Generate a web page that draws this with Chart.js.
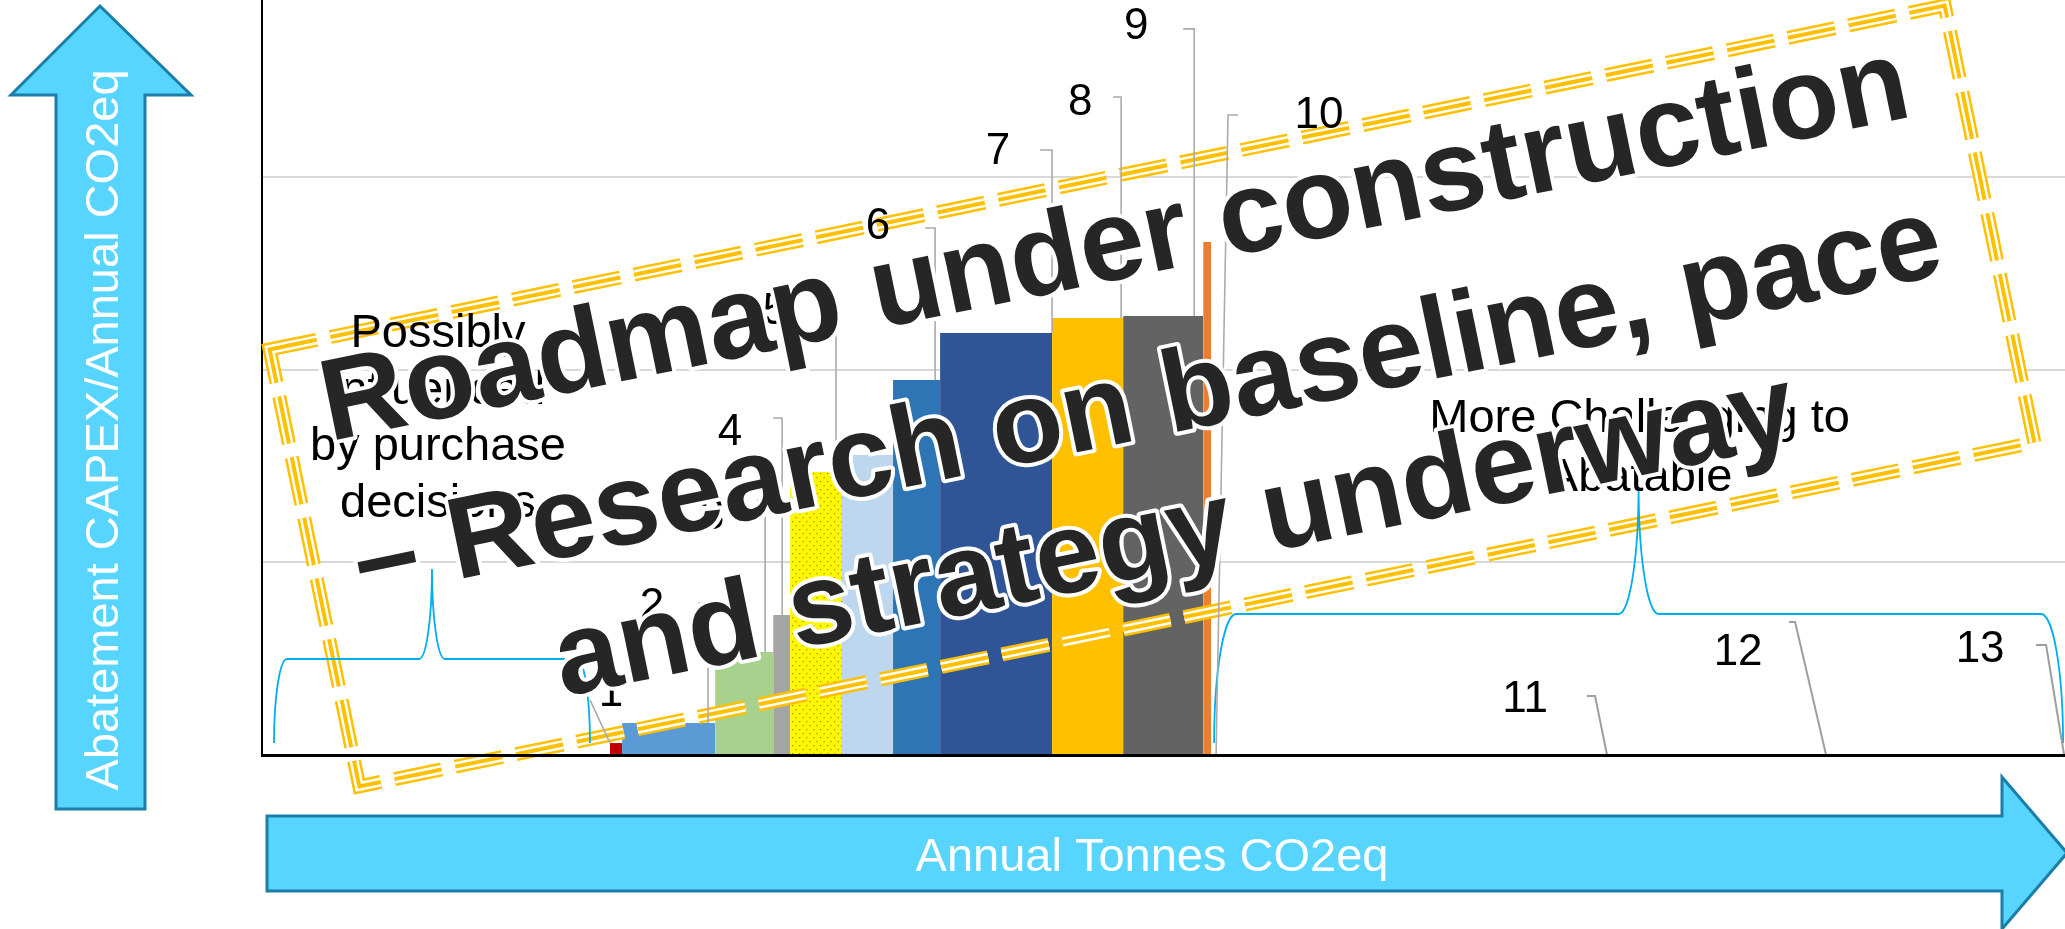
<!DOCTYPE html>
<html>
<head>
<meta charset="utf-8">
<script src="https://cdn.jsdelivr.net/npm/chart.js@4.4.1/dist/chart.umd.min.js"></script>
<style>
html,body{margin:0;padding:0;background:#fff;overflow:hidden;}
canvas{display:block;}
</style>
</head>
<body>
<canvas id="c" width="2065" height="929"></canvas>
<script>
// ---------------- DATA ----------------
// one entry per block of the abatement curve, left to right
const barLabels     = ['', '1', '2', '3', '4', '5', '', '6', '7', '8', '9', '', '10', '11', '12', '13'];
const annualTonnes  = [193.0, 6.7, 51.6, 32.2, 9.4, 28.8, 28.3, 26.1, 62.1, 39.4, 44.4, 4.4, 9.4, 210.2, 121.5, 132.0];
const capexPerTonne = [0, 62, 166, 535, 727, 1470, 1558, 1948, 2192, 2270, 2281, 2665, 0, 0, 0, 0];
const yTickValues   = [0, 1000, 2000, 3000];
const xAxisTitle    = 'Annual Tonnes CO2eq';
const yAxisTitle    = 'Abatement CAPEX/Annual CO2eq';
const leftGroupText  = ['Possibly', 'influenced', 'by purchase', 'decisions'];
const rightGroupText = ['More Challenging to', 'Abatable'];
const leftGroupBars  = [0, 0];
const rightGroupBars = [12, 15];
const watermarkLines = ['Roadmap under construction', '\u2013 Research on baseline, pace', 'and strategy underway'];

// ---------------- STYLE ----------------
const FONT = '"Liberation Sans", Arial, sans-serif';
function dottedYellow() {
  const c = document.createElement('canvas'); c.width = 7; c.height = 8;
  const g = c.getContext('2d');
  g.fillStyle = '#FFF700'; g.fillRect(0, 0, 7, 8);
  g.fillStyle = '#A89600';
  g.fillRect(1, 1, 1.3, 1.3); g.fillRect(4.5, 5, 1.3, 1.3);
  return g.createPattern(c, 'repeat');
}
const barColors = ['rgba(0,0,0,0)', '#C00000', '#5B9BD5', '#A9D18E', '#A5A5A5', dottedYellow(), '#BDD7EE',
  '#2E75B6', '#2F5597', '#FFC000', '#636363', '#ED7D31', 'rgba(0,0,0,0)', 'rgba(0,0,0,0)', 'rgba(0,0,0,0)', 'rgba(0,0,0,0)'];

// label placement, pixel offsets from the block's top-right corner
// top = leader top, foot = leader foot x offset, text = label centre, tick = horizontal tick length (neg = to the right)
const labelPlacement = {
  1:  {top: [-32, -43],  foot: -12, text: [-11, -49],  tick: 0},
  2:  {top: [-7, -120],  foot: -7,  text: [-63, -116], tick: 10},
  3:  {top: [-8, -152],  foot: -8,  text: [-61, -135], tick: 8},
  4:  {top: [-8, -197],  foot: -8,  text: [-60, -182], tick: 9},
  5:  {top: [-6, -174],  foot: -6,  text: [-67, -160], tick: 8},
  7:  {top: [-5, -152],  foot: -5,  text: [-62, -153], tick: 10},
  8:  {top: [0, -183],   foot: 0,   text: [-54, -181], tick: 12},
  9:  {top: [-2, -221],  foot: -2,  text: [-43, -215], tick: 8},
  10: {top: [-9, -287],  foot: -9,  text: [-67, -289], tick: 11},
  12: {top: [0, -640],   foot: -12, text: [91, -639],  tick: -10},
  13: {top: [-12, -59],  foot: 0,   text: [-82, -55],  tick: 8},
  14: {top: [-31, -133], foot: 0,   text: [-88, -102], tick: 6},
  15: {top: [-18, -110], foot: 0,   text: [-84, -105], tick: 10}
};

// ---------------- BUILD ----------------
let run = 0;
const starts = annualTonnes.map(w => { const s = run; run += w; return s; });
const datasets = annualTonnes.map((w, i) => ({
  label: barLabels[i],
  data: [{x: starts[i], y: capexPerTonne[i]}, {x: starts[i] + w, y: capexPerTonne[i]}],
  backgroundColor: barColors[i],
  borderColor: 'rgba(0,0,0,0)',
  borderWidth: 0,
  pointRadius: 0,
  fill: 'origin',
  tension: 0
}));

function brace(ctx, x0, x1, yb, yh, ypk, rc, rp) {
  const xm = (x0 + x1) / 2;
  ctx.beginPath();
  ctx.moveTo(x0, yb);
  ctx.ellipse(x0 + rc, yb, rc, yb - yh, 0, Math.PI, 1.5 * Math.PI, false);
  ctx.lineTo(xm - rp, yh);
  ctx.ellipse(xm - rp, ypk, rp, yh - ypk, 0, 0.5 * Math.PI, 0, true);
  ctx.ellipse(xm + rp, ypk, rp, yh - ypk, 0, Math.PI, 0.5 * Math.PI, true);
  ctx.lineTo(x1 - rc, yh);
  ctx.ellipse(x1 - rc, yb, rc, yb - yh, 0, 1.5 * Math.PI, 2 * Math.PI, false);
  ctx.stroke();
}

const WM = {cx: 1152, cy: 396, hw: 855, hh: 223, angle: -11.6};

const maccPlugin = {
  id: 'macc',
  afterDatasetsDraw(chart) {
    const ctx = chart.ctx, xs = chart.scales.x, ys = chart.scales.y;
    const X = v => xs.getPixelForValue(v), Y = v => ys.getPixelForValue(v);

    // dashed compound frame of the overlay
    ctx.save();
    ctx.translate(WM.cx, WM.cy);
    ctx.rotate(WM.angle * Math.PI / 180);
    ctx.setLineDash([48, 14]);
    ctx.lineJoin = 'miter';
    [['#FFC000', 14], ['#FFFFFF', 9], ['#FFC000', 4]].forEach(([c, w]) => {
      ctx.strokeStyle = c; ctx.lineWidth = w;
      ctx.strokeRect(-WM.hw, -WM.hh, WM.hw * 2, WM.hh * 2);
    });
    ctx.restore();

    // braces
    ctx.save();
    ctx.strokeStyle = '#00AEEF'; ctx.lineWidth = 1.8;
    const base = Y(0);
    const lx0 = X(starts[leftGroupBars[0]]) + 12, lx1 = X(starts[leftGroupBars[1]] + annualTonnes[leftGroupBars[1]]) - 20;
    brace(ctx, lx0, lx1, base - 12, base - 96, base - 186, 13, 13);
    const rx0 = X(starts[rightGroupBars[0]]) + 3, rx1 = X(starts[rightGroupBars[1]] + annualTonnes[rightGroupBars[1]]) - 1;
    brace(ctx, rx0, rx1, base - 12, base - 141, base - 268, 22, 20);
    ctx.restore();

    // group texts
    ctx.save();
    ctx.fillStyle = '#000';
    ctx.font = '47px ' + FONT;
    ctx.textAlign = 'center'; ctx.textBaseline = 'alphabetic';
    leftGroupText.forEach((t, i) => ctx.fillText(t, (lx0 + lx1) / 2 + 6, base - 408 + i * 56.7));
    rightGroupText.forEach((t, i) => ctx.fillText(t, (rx0 + rx1) / 2 + 1, base - 323 + i * 59));
    ctx.restore();

    // data labels with leader lines
    ctx.save();
    ctx.font = '44px ' + FONT;
    ctx.textAlign = 'center'; ctx.textBaseline = 'middle';
    barLabels.forEach((lab, i) => {
      const p = labelPlacement[i];
      if (!lab || !p) return;
      const ax = X(starts[i] + annualTonnes[i]), ay = Y(capexPerTonne[i]);
      const tx = ax + p.top[0], ty = ay + p.top[1];
      ctx.strokeStyle = i >= 13 ? '#9E9E9E' : '#ABABAB';
      ctx.lineWidth = i >= 13 ? 2 : 1.6;
      ctx.beginPath();
      if (p.tick) ctx.moveTo(tx - p.tick, ty); else ctx.moveTo(tx, ty);
      ctx.lineTo(tx, ty);
      ctx.lineTo(ax + p.foot, ay);
      ctx.stroke();
      ctx.fillStyle = '#000';
      ctx.fillText(lab, ax + p.text[0], ay + p.text[1]);
    });
    ctx.restore();
  },
  afterDraw(chart) {
    const ctx = chart.ctx;
    ctx.save();
    ctx.fillStyle = '#57D5FF'; ctx.strokeStyle = '#1B7EA8'; ctx.lineWidth = 3; ctx.lineJoin = 'miter';
    // vertical arrow
    ctx.beginPath();
    [[100, 6], [191, 95], [145, 95], [145, 809], [56, 809], [56, 95], [11, 95]].forEach(([x, y], k) => k ? ctx.lineTo(x, y) : ctx.moveTo(x, y));
    ctx.closePath(); ctx.fill(); ctx.stroke();
    // horizontal arrow
    ctx.beginPath();
    [[267, 816], [2002, 816], [2002, 777], [2067, 853], [2002, 929], [2002, 891], [267, 891]].forEach(([x, y], k) => k ? ctx.lineTo(x, y) : ctx.moveTo(x, y));
    ctx.closePath(); ctx.fill(); ctx.stroke();
    ctx.fillStyle = '#FFFFFF';
    ctx.font = '47px ' + FONT;
    ctx.textAlign = 'center'; ctx.textBaseline = 'alphabetic';
    ctx.fillText(xAxisTitle, 1152, 871);
    ctx.translate(118, 430); ctx.rotate(-Math.PI / 2);
    ctx.fillText(yAxisTitle, 0, 0);
    ctx.restore();

    // overlay text
    ctx.save();
    ctx.translate(WM.cx, WM.cy);
    ctx.rotate(WM.angle * Math.PI / 180);
    ctx.font = 'bold 116px ' + FONT;
    ctx.textAlign = 'center'; ctx.textBaseline = 'alphabetic';
    ctx.lineJoin = 'round';
    const bl = [-121, 40, 176];
    watermarkLines.forEach((t, i) => {
      ctx.strokeStyle = '#FFFFFF'; ctx.lineWidth = 8;
      ctx.strokeText(t, -6, bl[i]);
      ctx.fillStyle = '#262626';
      ctx.fillText(t, -6, bl[i]);
    });
    ctx.restore();
  }
};

new Chart(document.getElementById('c'), {
  type: 'line',
  data: {datasets},
  options: {
    responsive: false,
    animation: false,
    devicePixelRatio: 1,
    layout: {padding: {left: 262, right: 0, top: 0, bottom: 174}},
    plugins: {legend: {display: false}, tooltip: {enabled: false}},
    elements: {line: {borderWidth: 0}},
    scales: {
      x: {
        type: 'linear', min: 0, max: 1000,
        ticks: {display: false},
        grid: {display: false, drawTicks: false},
        border: {display: true, color: '#000', width: 3, z: 1},
        afterFit(s) { s.height = 0; }
      },
      y: {
        type: 'linear', min: 0, max: 3922,
        afterBuildTicks(s) { s.ticks = yTickValues.map(v => ({value: v})); },
        ticks: {display: false},
        grid: {color: '#D9D9D9', lineWidth: 2, drawTicks: false},
        border: {display: true, color: '#000', width: 2},
        afterFit(s) { s.width = 0; }
      }
    }
  },
  plugins: [maccPlugin]
});
</script>
</body>
</html>
